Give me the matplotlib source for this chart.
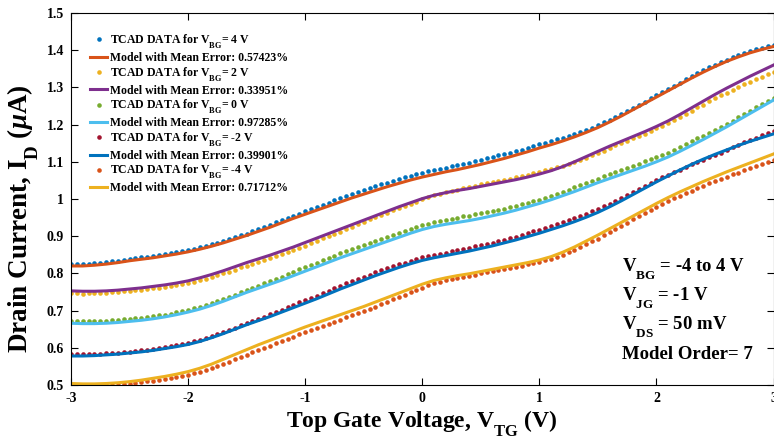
import numpy as np
import matplotlib
matplotlib.use("Agg")
import matplotlib.pyplot as plt
from matplotlib import _mathtext

plt.rcParams['font.family'] = ['Liberation Serif', 'DejaVu Serif']
plt.rcParams['font.weight'] = 'bold'
plt.rcParams['axes.unicode_minus'] = False
plt.rcParams['mathtext.fontset'] = 'custom'
plt.rcParams['mathtext.rm'] = 'Liberation Serif:bold'
plt.rcParams['mathtext.it'] = 'Liberation Serif:italic:bold'
plt.rcParams['mathtext.bf'] = 'Liberation Serif:bold'
# MATLAB-like subscripts: sit lower than matplotlib's default
_mathtext.FontConstantsBase.sub1 = 0.9

# Top gate voltage sweep (TCAD every 0.05 V, model every 0.1 V)
vtg_tcad = np.linspace(-3, 3, 121)
vtg_model = np.linspace(-3, 3, 61)

tcad_vbg4 = [
    0.825, 0.825, 0.825, 0.826, 0.827, 0.828, 0.830, 0.832, 0.834, 0.836,
    0.839, 0.841, 0.843, 0.845, 0.847, 0.850, 0.852, 0.855, 0.857, 0.860,
    0.863, 0.866, 0.870, 0.874, 0.878, 0.882, 0.887, 0.892, 0.897, 0.902,
    0.907, 0.913, 0.919, 0.925, 0.930, 0.937, 0.943, 0.949, 0.955, 0.961,
    0.967, 0.973, 0.979, 0.985, 0.990, 0.996, 1.002, 1.008, 1.013, 1.019,
    1.024, 1.029, 1.034, 1.039, 1.044, 1.049, 1.053, 1.058, 1.062, 1.066,
    1.070, 1.074, 1.077, 1.081, 1.084, 1.088, 1.091, 1.095, 1.098, 1.102,
    1.105, 1.109, 1.113, 1.117, 1.120, 1.125, 1.129, 1.133, 1.137, 1.142,
    1.147, 1.151, 1.155, 1.160, 1.164, 1.170, 1.175, 1.181, 1.186, 1.192,
    1.198, 1.206, 1.213, 1.221, 1.228, 1.237, 1.245, 1.254, 1.262, 1.271,
    1.279, 1.288, 1.296, 1.305, 1.313, 1.322, 1.330, 1.338, 1.346, 1.354,
    1.361, 1.368, 1.375, 1.381, 1.387, 1.393, 1.398, 1.403, 1.407, 1.411, 1.415]
model_vbg4 = [
    0.820, 0.820, 0.822, 0.825, 0.829, 0.834, 0.838, 0.842, 0.847, 0.852,
    0.858, 0.865, 0.873, 0.882, 0.892, 0.902, 0.913, 0.924, 0.936, 0.948,
    0.959, 0.970, 0.981, 0.992, 1.003, 1.013, 1.023, 1.033, 1.042, 1.051,
    1.059, 1.066, 1.073, 1.079, 1.086, 1.093, 1.101, 1.109, 1.118, 1.127,
    1.137, 1.146, 1.156, 1.167, 1.179, 1.192, 1.207, 1.223, 1.240, 1.257,
    1.274, 1.291, 1.308, 1.325, 1.341, 1.356, 1.370, 1.382, 1.393, 1.402, 1.410]

tcad_vbg2 = [
    0.746, 0.746, 0.745, 0.746, 0.746, 0.747, 0.747, 0.749, 0.750, 0.752,
    0.753, 0.755, 0.756, 0.758, 0.760, 0.762, 0.763, 0.766, 0.768, 0.771,
    0.774, 0.778, 0.782, 0.786, 0.790, 0.795, 0.800, 0.805, 0.810, 0.816,
    0.821, 0.826, 0.831, 0.836, 0.841, 0.846, 0.851, 0.857, 0.862, 0.868,
    0.874, 0.881, 0.887, 0.894, 0.900, 0.906, 0.912, 0.919, 0.925, 0.932,
    0.938, 0.945, 0.951, 0.957, 0.963, 0.970, 0.976, 0.982, 0.987, 0.993,
    0.999, 1.005, 1.010, 1.014, 1.018, 1.022, 1.025, 1.029, 1.032, 1.036,
    1.039, 1.042, 1.045, 1.049, 1.052, 1.055, 1.058, 1.062, 1.065, 1.069,
    1.073, 1.077, 1.080, 1.085, 1.089, 1.094, 1.099, 1.105, 1.111, 1.117,
    1.123, 1.130, 1.137, 1.144, 1.150, 1.157, 1.163, 1.170, 1.176, 1.183,
    1.190, 1.197, 1.204, 1.212, 1.220, 1.229, 1.237, 1.246, 1.254, 1.263,
    1.271, 1.279, 1.286, 1.294, 1.301, 1.308, 1.315, 1.322, 1.329, 1.336, 1.342]
model_vbg2 = [
    0.753, 0.752, 0.752, 0.753, 0.755, 0.758, 0.761, 0.765, 0.769, 0.774,
    0.780, 0.788, 0.797, 0.807, 0.818, 0.829, 0.839, 0.849, 0.860, 0.871,
    0.883, 0.895, 0.907, 0.919, 0.931, 0.943, 0.955, 0.967, 0.979, 0.990,
    1.001, 1.010, 1.017, 1.023, 1.028, 1.034, 1.040, 1.046, 1.052, 1.059,
    1.067, 1.076, 1.087, 1.100, 1.114, 1.128, 1.142, 1.155, 1.168, 1.181,
    1.195, 1.210, 1.227, 1.245, 1.263, 1.281, 1.298, 1.314, 1.330, 1.345, 1.360]

tcad_vbg0 = [
    0.673, 0.673, 0.672, 0.672, 0.672, 0.673, 0.673, 0.674, 0.675, 0.677,
    0.678, 0.680, 0.681, 0.683, 0.685, 0.687, 0.689, 0.692, 0.695, 0.699,
    0.702, 0.706, 0.710, 0.715, 0.720, 0.726, 0.731, 0.737, 0.743, 0.749,
    0.755, 0.761, 0.767, 0.773, 0.779, 0.785, 0.791, 0.798, 0.804, 0.811,
    0.817, 0.823, 0.829, 0.836, 0.842, 0.848, 0.854, 0.860, 0.866, 0.872,
    0.877, 0.883, 0.888, 0.893, 0.898, 0.904, 0.909, 0.914, 0.919, 0.924,
    0.929, 0.934, 0.938, 0.941, 0.944, 0.947, 0.950, 0.953, 0.955, 0.959,
    0.962, 0.965, 0.968, 0.971, 0.974, 0.978, 0.982, 0.986, 0.990, 0.994,
    0.998, 1.003, 1.008, 1.014, 1.019, 1.025, 1.031, 1.037, 1.043, 1.049,
    1.055, 1.061, 1.066, 1.072, 1.078, 1.084, 1.089, 1.095, 1.101, 1.107,
    1.113, 1.119, 1.125, 1.132, 1.139, 1.147, 1.155, 1.163, 1.170, 1.178,
    1.186, 1.194, 1.202, 1.211, 1.220, 1.229, 1.237, 1.246, 1.255, 1.264, 1.272]
model_vbg0 = [
    0.666, 0.665, 0.665, 0.666, 0.668, 0.671, 0.674, 0.678, 0.683, 0.689,
    0.696, 0.704, 0.714, 0.725, 0.737, 0.749, 0.760, 0.771, 0.782, 0.794,
    0.806, 0.818, 0.830, 0.842, 0.853, 0.864, 0.875, 0.886, 0.897, 0.908,
    0.918, 0.926, 0.932, 0.937, 0.942, 0.948, 0.955, 0.962, 0.970, 0.979,
    0.988, 0.998, 1.009, 1.020, 1.032, 1.044, 1.055, 1.066, 1.077, 1.088,
    1.100, 1.113, 1.128, 1.144, 1.160, 1.177, 1.194, 1.212, 1.230, 1.248, 1.266]

tcad_vbgm2 = [
    0.582, 0.582, 0.582, 0.583, 0.583, 0.584, 0.585, 0.586, 0.587, 0.589,
    0.590, 0.592, 0.593, 0.595, 0.597, 0.600, 0.602, 0.605, 0.607, 0.610,
    0.613, 0.617, 0.621, 0.626, 0.631, 0.637, 0.642, 0.648, 0.654, 0.660,
    0.666, 0.672, 0.678, 0.684, 0.690, 0.696, 0.702, 0.709, 0.715, 0.722,
    0.728, 0.734, 0.740, 0.747, 0.753, 0.760, 0.767, 0.773, 0.779, 0.785,
    0.791, 0.797, 0.803, 0.809, 0.814, 0.819, 0.824, 0.829, 0.834, 0.839,
    0.843, 0.847, 0.850, 0.853, 0.856, 0.860, 0.863, 0.866, 0.869, 0.873,
    0.876, 0.880, 0.883, 0.887, 0.891, 0.895, 0.899, 0.904, 0.908, 0.913,
    0.917, 0.922, 0.927, 0.932, 0.937, 0.943, 0.948, 0.954, 0.960, 0.967,
    0.973, 0.980, 0.987, 0.995, 1.002, 1.010, 1.018, 1.026, 1.034, 1.042,
    1.050, 1.058, 1.065, 1.072, 1.079, 1.086, 1.093, 1.100, 1.106, 1.112,
    1.118, 1.125, 1.132, 1.139, 1.146, 1.153, 1.159, 1.165, 1.171, 1.177, 1.183]
model_vbgm2 = [
    0.578, 0.578, 0.579, 0.581, 0.583, 0.586, 0.589, 0.593, 0.598, 0.603,
    0.609, 0.617, 0.627, 0.638, 0.650, 0.662, 0.673, 0.684, 0.696, 0.708,
    0.720, 0.732, 0.745, 0.758, 0.770, 0.782, 0.794, 0.805, 0.816, 0.826,
    0.835, 0.842, 0.848, 0.854, 0.860, 0.867, 0.874, 0.882, 0.890, 0.899,
    0.908, 0.918, 0.928, 0.939, 0.951, 0.964, 0.979, 0.995, 1.012, 1.029,
    1.046, 1.062, 1.078, 1.093, 1.107, 1.120, 1.132, 1.144, 1.155, 1.165, 1.175]

tcad_vbgm4 = [
    0.499, 0.499, 0.498, 0.498, 0.498, 0.499, 0.499, 0.500, 0.501, 0.503,
    0.504, 0.506, 0.507, 0.510, 0.512, 0.514, 0.516, 0.519, 0.522, 0.525,
    0.528, 0.532, 0.536, 0.541, 0.546, 0.552, 0.557, 0.563, 0.569, 0.575,
    0.581, 0.588, 0.594, 0.600, 0.606, 0.612, 0.618, 0.624, 0.630, 0.636,
    0.642, 0.648, 0.653, 0.659, 0.664, 0.670, 0.676, 0.682, 0.687, 0.693,
    0.698, 0.705, 0.711, 0.718, 0.724, 0.730, 0.736, 0.743, 0.749, 0.756,
    0.762, 0.768, 0.773, 0.777, 0.781, 0.784, 0.787, 0.790, 0.793, 0.797,
    0.800, 0.803, 0.806, 0.809, 0.812, 0.815, 0.818, 0.821, 0.824, 0.828,
    0.831, 0.835, 0.839, 0.845, 0.850, 0.857, 0.863, 0.871, 0.878, 0.886,
    0.893, 0.902, 0.910, 0.919, 0.927, 0.936, 0.945, 0.954, 0.962, 0.971,
    0.979, 0.987, 0.994, 1.002, 1.009, 1.016, 1.022, 1.029, 1.036, 1.042,
    1.048, 1.054, 1.060, 1.066, 1.071, 1.077, 1.083, 1.089, 1.094, 1.100, 1.105]
model_vbgm4 = [
    0.504, 0.503, 0.503, 0.504, 0.506, 0.509, 0.513, 0.518, 0.523, 0.529,
    0.536, 0.545, 0.556, 0.569, 0.582, 0.595, 0.608, 0.620, 0.632, 0.644,
    0.656, 0.667, 0.678, 0.689, 0.700, 0.711, 0.723, 0.735, 0.747, 0.759,
    0.771, 0.781, 0.788, 0.794, 0.799, 0.805, 0.811, 0.817, 0.823, 0.829,
    0.836, 0.845, 0.857, 0.871, 0.887, 0.903, 0.920, 0.937, 0.954, 0.971,
    0.988, 1.004, 1.019, 1.033, 1.047, 1.060, 1.073, 1.085, 1.097, 1.109, 1.121]

tcad_labels = ['4', '2', '0', '-2', '-4']
mean_errors = ['0.57423', '0.33951', '0.97285', '0.39901', '0.71712']
tcad_colors = ['#0072BD', '#EDB120', '#77AC30', '#A2142F', '#D95319']
model_colors = ['#D95319', '#7E2F8E', '#4DBEEE', '#0072BD', '#EDB120']

tcad_series = [tcad_vbg4, tcad_vbg2, tcad_vbg0, tcad_vbgm2, tcad_vbgm4]
model_series = [model_vbg4, model_vbg2, model_vbg0, model_vbgm2, model_vbgm4]

xticks = [-3, -2, -1, 0, 1, 2, 3]
yticks = [0.5, 0.6, 0.7, 0.8, 0.9, 1.0, 1.1, 1.2, 1.3, 1.4, 1.5]
yticklabels = ['0.5', '0.6', '0.7', '0.8', '0.9', '1', '1.1', '1.2', '1.3', '1.4', '1.5']

W, H = 774, 442
fig = plt.figure(figsize=(W / 100, H / 100), dpi=100)
ax = fig.add_axes([71 / W, (H - 385) / H, (773.5 - 71) / W, (385 - 13) / H])

for td, md, lab, err, tc, mc in zip(tcad_series, model_series, tcad_labels,
                                     mean_errors, tcad_colors, model_colors):
    ax.plot(vtg_tcad[:len(td)], td, linestyle='none', marker='o', markersize=3.3,
            markeredgewidth=0, color=tc,
            label='TCAD DATA for V$_{\\mathrm{BG}}$= ' + lab + ' V')
    ax.plot(vtg_model[:len(md)], md, linestyle='-', linewidth=2.2, color=mc,
            label='Model with Mean Error: ' + err + '%')

ax.set_xlim(-3, 3)
ax.set_ylim(0.5, 1.5)
ax.set_xticks(xticks)
ax.set_xticklabels([str(t) for t in xticks])
ax.set_yticks(yticks)
ax.set_yticklabels(yticklabels)
ax.tick_params(direction='in', length=5, width=0.8, top=True, right=True,
               labelsize=10, pad=5)
for lbl in ax.get_xticklabels() + ax.get_yticklabels():
    lbl.set_fontweight('bold')
for s in ax.spines.values():
    s.set_linewidth(0.8)

ax.set_xlabel('Top Gate Voltage, V$_{\\mathrm{TG}}$ (V)', fontsize=17,
              fontweight='bold', labelpad=2)
ax.set_ylabel('Drain Current, I$_{\\mathrm{D}}$ ($\\mu$A)', fontsize=19.5,
              fontweight='bold')
ax.yaxis.set_label_coords(-0.043, 0.446)

leg = ax.legend(loc='upper left', bbox_to_anchor=(0.02, 0.96), frameon=False,
                fontsize=8.5, handlelength=1.5, handletextpad=0.2,
                labelspacing=0.09, borderaxespad=0.0)
for t in leg.get_texts():
    t.set_fontweight('bold')

info = ['V$_{\\mathrm{BG}}$ = -4 to 4 V', 'V$_{\\mathrm{JG}}$ = -1 V',
        'V$_{\\mathrm{DS}}$ = 50 mV', 'Model Order= 7']
base_px = [272, 301, 330, 359]
for txt, py in zip(info, base_px):
    fig.text(622 / W, 1 - py / H, txt, fontsize=13.5, fontweight='bold',
             va='baseline', ha='left')

fig.savefig('out.png', dpi=100)
